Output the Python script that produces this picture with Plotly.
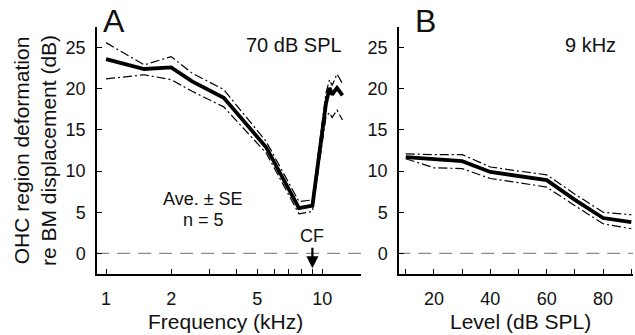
import numpy as np
import plotly.graph_objects as go

# ---- Data -------------------------------------------------------------
# Panel A: 70 dB SPL, frequency sweep
freq_khz = [1, 1.5, 2, 2.5, 3.5, 5.5, 7.8, 9, 10.4, 10.8, 11.1, 11.7, 12.4]
mean_a = [23.6, 22.4, 22.6, 20.9, 18.9, 12.9, 5.5, 5.8, 18.2, 20.1, 19.3, 20.1, 19.2]
upper_a = [25.6, 22.9, 23.9, 21.9, 19.9, 13.6, 6.3, 6.5, 19.5, 21.1, 20.4, 21.8, 20.6]
lower_a = [21.2, 21.7, 21.1, 19.7, 17.8, 12.2, 4.8, 5.1, 16.6, 17.1, 16.5, 17.4, 16.2]

# Panel B: 9 kHz, level sweep
level_db = [10, 20, 30, 40, 50, 60, 70, 80, 90]
mean_b = [11.7, 11.4, 11.2, 9.9, 9.4, 8.9, 6.5, 4.3, 3.8]
upper_b = [12.1, 12.0, 12.0, 10.5, 10.0, 9.55, 7.2, 5.0, 4.7]
lower_b = [11.5, 10.4, 10.3, 9.1, 8.6, 8.05, 5.8, 3.6, 3.0]

cf_khz = 9
y_ticks = [0, 5, 10, 15, 20, 25]
freq_ticks = [1, 2, 3, 4, 5, 6, 7, 8, 9, 10]
freq_ticktext = ["1", "2", "", "", "5", "", "", "", "", "10"]
level_ticks = [10, 20, 30, 40, 50, 60, 70, 80, 90]
level_ticktext = ["", "20", "", "40", "", "60", "", "80", ""]

# ---- Figure -----------------------------------------------------------
W, H = 635, 335
FONT = "Liberation Sans, Arial, Helvetica, sans-serif"
fig = go.Figure()

mean_style = dict(color="black", width=3.8)
se_style = dict(color="black", width=1.2, dash="9px,3px,2px,3px")
zero_style = dict(color="#8a8a8a", width=1.1, dash="13px,8px")

# zero reference lines
fig.add_trace(go.Scatter(x=[0.9, 16], y=[0, 0], mode="lines", line=zero_style,
                         xaxis="x", yaxis="y", hoverinfo="skip"))
fig.add_trace(go.Scatter(x=[7, 92], y=[0, 0], mode="lines", line=zero_style,
                         xaxis="x2", yaxis="y2", hoverinfo="skip"))

for ys in (upper_a, lower_a):
    fig.add_trace(go.Scatter(x=freq_khz, y=ys, mode="lines", line=se_style,
                             xaxis="x", yaxis="y"))
fig.add_trace(go.Scatter(x=freq_khz, y=mean_a, mode="lines", line=mean_style,
                         xaxis="x", yaxis="y"))

for ys in (upper_b, lower_b):
    fig.add_trace(go.Scatter(x=level_db, y=ys, mode="lines", line=se_style,
                             xaxis="x2", yaxis="y2"))
fig.add_trace(go.Scatter(x=level_db, y=mean_b, mode="lines", line=mean_style,
                         xaxis="x2", yaxis="y2"))

y_dom = [(H - 274) / H, (H - 27) / H]
xa_dom = [97 / W, 361 / W]
xb_dom = [399 / W, 633 / W]

axis_common = dict(showline=True, linecolor="black", linewidth=1.5,
                   ticks="inside", tickcolor="black", tickwidth=1.3, ticklen=5,
                   showgrid=False, zeroline=False,
                   tickfont=dict(family=FONT, size=18, color="#111"))

fig.update_layout(
    width=W, height=H,
    margin=dict(l=0, r=0, t=0, b=0),
    paper_bgcolor="white", plot_bgcolor="white",
    showlegend=False,
    xaxis=dict(domain=xa_dom, type="log",
               range=[np.log10(0.908), np.log10(15.1)],
               tickvals=freq_ticks, ticktext=freq_ticktext,
               anchor="y", ticklabelstandoff=8, **axis_common),
    yaxis=dict(domain=y_dom, range=[-2.5, 27.5], tickvals=y_ticks,
               anchor="x", ticklabelstandoff=6, **axis_common),
    xaxis2=dict(domain=xb_dom, range=[7.6, 90.6],
                tickvals=level_ticks, ticktext=level_ticktext,
                anchor="y2", ticklabelstandoff=8, **axis_common),
    yaxis2=dict(domain=y_dom, range=[-2.5, 27.5], tickvals=y_ticks,
                anchor="x2", ticklabelstandoff=6, **axis_common),
)

def txt(text, x, y, size, xanchor="center", yanchor="middle", angle=0):
    fig.add_annotation(text=text, x=x / W, y=(H - y) / H, xref="paper", yref="paper",
                       showarrow=False, xanchor=xanchor, yanchor=yanchor,
                       textangle=angle,
                       font=dict(family=FONT, size=size, color="#111"))

txt("A", 114, 21, 32)
txt("B", 425, 21, 32)
txt("70 dB SPL", 294, 45, 20)
txt("9 kHz", 590, 45, 20)
txt("Ave. ± SE", 203, 199, 18)
txt("n = 5", 203, 220, 18)
txt("CF", 312, 236, 18)
txt("Frequency (kHz)", 225, 321, 21)
txt("Level (dB SPL)", 520, 321, 21)
txt("OHC region deformation<br>re BM displacement (dB)", 35, 151, 21, angle=-90)

# CF arrow
fig.add_annotation(x=np.log10(cf_khz), y=-1.8, xref="x", yref="y",
                   ax=0, ay=-22, axref="pixel", ayref="pixel",
                   showarrow=True, arrowhead=2, arrowsize=1.1, arrowwidth=2.2,
                   arrowcolor="black", text="")

fig.write_html(
    "out.html",
    config={"displayModeBar": False},
    post_script="document.body.style.margin='0';"
                "document.documentElement.style.overflow='hidden';"
                "document.body.style.overflow='hidden';",
)
